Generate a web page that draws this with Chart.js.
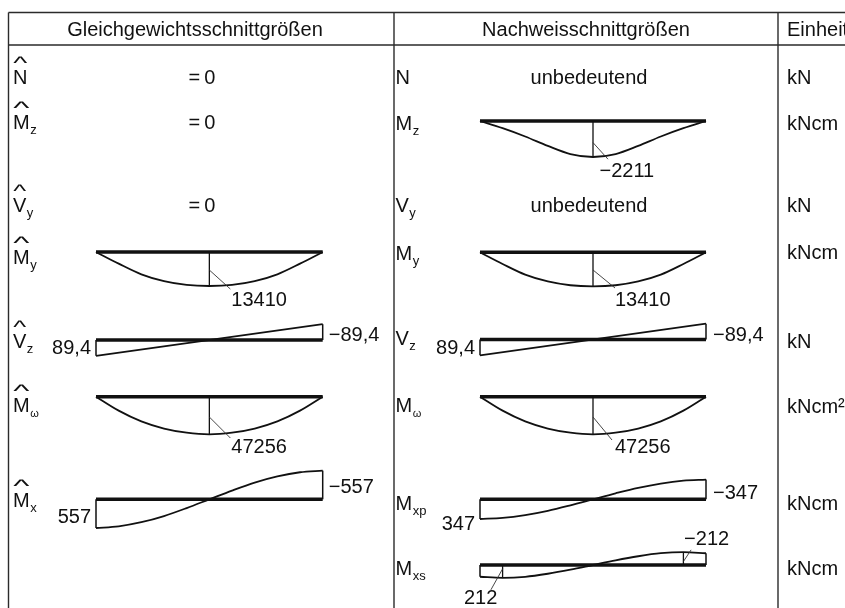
<!DOCTYPE html>
<html><head><meta charset="utf-8">
<script src="https://cdn.jsdelivr.net/npm/chart.js@4.4.1/dist/chart.umd.min.js"></script>
<style>html,body{margin:0;padding:0;background:#fff;overflow:hidden}canvas{display:block}</style>
</head><body>
<canvas id="c" width="845" height="608"></canvas>
<script>
// ---------------- data ----------------
const tPos  = [0, 0.1, 0.2, 0.3, 0.4, 0.5, 0.6, 0.7, 0.8, 0.9, 1];   // position along the beam
const tEnds = [0, 1];
const MyVals  = [0, 4600, 8800, 11500, 13000, 13410, 13000, 11500, 8800, 4600, 0];      // kNcm
const MzVals  = [0, -440, -950, -1530, -2030, -2211, -2030, -1530, -950, -440, 0];      // kNcm
const VzVals  = [89.4, -89.4];                                                         // kN
const MwVals  = [0, 17500, 31000, 40000, 45200, 47256, 45200, 40000, 31000, 17500, 0]; // kNcm2
const MxVals  = [557, 525, 445, 325, 170, 0, -170, -325, -445, -525, -557];            // kNcm
const MxpVals = [347, 328, 278, 203, 106, 0, -106, -203, -278, -328, -347];            // kNcm
const MxsVals = [195, 212, 195, 145, 78, 0, -78, -145, -195, -212, -195];              // kNcm

const headers = ['Gleichgewichtsschnittgrößen', 'Nachweisschnittgrößen', 'Einheit'];
const leftSymbols  = [{s:'N',sub:''},{s:'M',sub:'z'},{s:'V',sub:'y'},{s:'M',sub:'y'},{s:'V',sub:'z'},{s:'M',sub:'ω'},{s:'M',sub:'x'}];
const rightSymbols = [{s:'N',sub:''},{s:'M',sub:'z'},{s:'V',sub:'y'},{s:'M',sub:'y'},{s:'V',sub:'z'},{s:'M',sub:'ω'},{s:'M',sub:'xp'},{s:'M',sub:'xs'}];
const units = ['kN','kNcm','kN','kNcm','kN','kNcm²','kNcm','kNcm'];
const zeroTexts  = ['=\u20090', '=\u20090', '=\u20090'];
const minorTexts = ['unbedeutend', 'unbedeutend'];

// ---------------- layout / style ----------------
const W = 845, H = 608;
const FONT = '"Liberation Sans", Arial, Helvetica, sans-serif';
const INK = '#111';
const TABLE = {left:8.5, top:12.5, headerBottom:45, cols:[394, 778], lw:1.4, color:'#2b2b2b'};
const HEADER = {y:35.5, x:[195, 586, 787], align:['center','center','left']};
const LEFT_ROWS_Y  = [84, 129, 212, 264, 348, 412, 507];
const RIGHT_ROWS_Y = [84, 130, 212, 260, 345, 412, 510, 575];
const UNIT_ROWS_Y  = [84, 130, 212, 259, 348, 413, 510, 575];
const ZERO_X = 202, MINOR_X = 589;
const LEFT_X = 13, RIGHT_X = 395.5, UNIT_X = 787;
const COLS = {L:{x0:96, x1:322.7}, R:{x0:480, x1:706}};

const DIAGRAMS = [
 {key:'MyL', col:'L', t:tPos, v:MyVals, yb:252, k:34/13410, dir:1, smooth:true, markers:[5],
  leaders:[{i:5, f:0.53, dx:21, dy:19, lx:1, ly:17}]},
 {key:'VzL', col:'L', t:tEnds, v:VzVals, yb:340, k:15.8/89.4, dir:1, smooth:false, ends:true,
  endLabels:[{i:0, dx:-5, dy:14, align:'right'}, {i:1, dx:6, dy:1, align:'left'}]},
 {key:'MwL', col:'L', t:tPos, v:MwVals, yb:396.7, k:37.6/47256, dir:1, smooth:true, markers:[5],
  leaders:[{i:5, f:0.54, dx:21, dy:21, lx:1, ly:15}]},
 {key:'MxL', col:'L', t:tPos, v:MxVals, yb:499.3, k:28.7/557, dir:1, smooth:true, ends:true,
  endLabels:[{i:0, dx:-5, dy:23.7, align:'right'}, {i:10, dx:6, dy:-6.3, align:'left'}]},
 {key:'MzR', col:'R', t:tPos, v:MzVals, yb:121, k:36/2211, dir:-1, smooth:true, markers:[5],
  leaders:[{i:5, f:0.6, dx:15, dy:16.6, lx:-8.5, ly:17.4}]},
 {key:'MyR', col:'R', t:tPos, v:MyVals, yb:252.3, k:34/13410, dir:1, smooth:true, markers:[5],
  leaders:[{i:5, f:0.52, dx:22, dy:18, lx:0, ly:18}]},
 {key:'VzR', col:'R', t:tEnds, v:VzVals, yb:339.5, k:15.8/89.4, dir:1, smooth:false, ends:true,
  endLabels:[{i:0, dx:-5, dy:14, align:'right'}, {i:1, dx:7, dy:1.5, align:'left'}]},
 {key:'MwR', col:'R', t:tPos, v:MwVals, yb:396.7, k:37.6/47256, dir:1, smooth:true, markers:[5],
  leaders:[{i:5, f:0.54, dx:19, dy:23, lx:3, ly:13}]},
 {key:'MxpR', col:'R', t:tPos, v:MxpVals, yb:499.3, k:19.7/347, dir:1, smooth:true, ends:true,
  endLabels:[{i:0, dx:-5, dy:30.7, align:'right'}, {i:10, dx:7, dy:0, align:'left'}]},
 {key:'MxsR', col:'R', t:tPos, v:MxsVals, yb:565, k:12.8/212, dir:1, smooth:true, ends:true, markers:[1, 9],
  leaders:[{i:1, f:0.3, dx:-11.7, dy:21, lx:-27, ly:14}, {i:9, f:0.27, dx:7.7, dy:-11.7, lx:-7, ly:-5}]},
];

function fmt(v){ return (v < 0 ? '\u2212' : '') + String(Math.abs(v)).replace('.', ','); }

// ---------------- scales ----------------
const scales = {};
for (const c of Object.keys(COLS)) {
  const L = COLS[c].x1 - COLS[c].x0, mn = -COLS[c].x0 / L;
  scales['x' + c] = {type:'linear', display:false, min:mn, max:mn + W / L};
}
for (const d of DIAGRAMS) {
  let mn;
  if (d.dir > 0) mn = -d.yb / d.k; else mn = (d.yb - H) / d.k;
  scales['y_' + d.key] = {type:'linear', display:false, reverse:d.dir > 0, min:mn, max:mn + H / d.k};
}

// ---------------- datasets ----------------
const datasets = [];
function seg(d, pts, w){
  datasets.push({data:pts, xAxisID:'x' + d.col, yAxisID:'y_' + d.key, showLine:true, pointRadius:0,
    borderColor:INK, borderWidth:w, fill:false, tension:0, borderCapStyle:'butt'});
}
for (const d of DIAGRAMS) {
  const ds = {data:d.t.map((t, i) => ({x:t, y:d.v[i]})), xAxisID:'x' + d.col, yAxisID:'y_' + d.key,
    showLine:true, pointRadius:0, borderColor:INK, borderWidth:1.8, fill:false, borderJoinStyle:'round'};
  if (d.smooth) ds.cubicInterpolationMode = 'monotone'; else ds.tension = 0;
  datasets.push(ds);
  if (d.ends) {
    const last = d.t.length - 1;
    seg(d, [{x:d.t[0], y:0}, {x:d.t[0], y:d.v[0]}], 1.5);
    seg(d, [{x:d.t[last], y:0}, {x:d.t[last], y:d.v[last]}], 1.5);
  }
  for (const i of (d.markers || [])) seg(d, [{x:d.t[i], y:0}, {x:d.t[i], y:d.v[i]}], 1.3);
  seg(d, [{x:d.t[0], y:0}, {x:d.t[d.t.length - 1], y:0}], 3.6);
}

// ---------------- text / table plugin ----------------
function drawSym(ctx, sym, x, y, hat){
  ctx.font = '20px ' + FONT; ctx.textAlign = 'left'; ctx.textBaseline = 'alphabetic';
  ctx.fillText(sym.s, x, y);
  const w = ctx.measureText(sym.s).width;
  if (hat) {
    ctx.save();
    ctx.translate(x + w / 2, y - 21.5);
    ctx.scale(w * 0.78 / 6.8, 1.05);
    ctx.textAlign = 'center';
    ctx.font = '18px ' + FONT;
    ctx.fillText('^', 0, 5.8);
    ctx.restore();
  }
  if (sym.sub) {
    ctx.font = (sym.sub === 'ω' ? 11 : 13) + 'px ' + FONT;
    ctx.textAlign = 'left';
    ctx.fillText(sym.sub, x + w + 0.5, y + 4.5);
  }
}

const tablePlugin = {
  id:'tablePlugin',
  beforeDraw(chart){
    const ctx = chart.ctx; ctx.save(); ctx.fillStyle = '#fff'; ctx.fillRect(0, 0, chart.width, chart.height); ctx.restore();
  },
  afterDraw(chart){
    const ctx = chart.ctx; ctx.save();
    // table grid
    ctx.strokeStyle = TABLE.color; ctx.lineWidth = TABLE.lw;
    ctx.beginPath();
    ctx.moveTo(TABLE.left, TABLE.top); ctx.lineTo(W, TABLE.top);
    ctx.moveTo(TABLE.left, TABLE.headerBottom); ctx.lineTo(W, TABLE.headerBottom);
    ctx.moveTo(TABLE.left, TABLE.top); ctx.lineTo(TABLE.left, H);
    for (const cx of TABLE.cols) { ctx.moveTo(cx, TABLE.top); ctx.lineTo(cx, H); }
    ctx.stroke();
    // headers
    ctx.fillStyle = INK; ctx.font = '20px ' + FONT; ctx.textBaseline = 'alphabetic';
    headers.forEach((h, i) => { ctx.textAlign = HEADER.align[i]; ctx.fillText(h, HEADER.x[i], HEADER.y); });
    // row symbols
    leftSymbols.forEach((s, i) => drawSym(ctx, s, LEFT_X, LEFT_ROWS_Y[i], true));
    rightSymbols.forEach((s, i) => drawSym(ctx, s, RIGHT_X, RIGHT_ROWS_Y[i], false));
    ctx.font = '20px ' + FONT; ctx.textAlign = 'left';
    units.forEach((u, i) => ctx.fillText(u, UNIT_X, UNIT_ROWS_Y[i]));
    ctx.textAlign = 'center';
    zeroTexts.forEach((z, i) => ctx.fillText(z, ZERO_X, LEFT_ROWS_Y[i]));
    ctx.fillText(minorTexts[0], MINOR_X, RIGHT_ROWS_Y[0]);
    ctx.fillText(minorTexts[1], MINOR_X, RIGHT_ROWS_Y[2]);
    // value labels + leaders
    for (const d of DIAGRAMS) {
      const xs = chart.scales['x' + d.col], ys = chart.scales['y_' + d.key];
      for (const e of (d.endLabels || [])) {
        ctx.font = '20px ' + FONT; ctx.textAlign = e.align;
        ctx.fillText(fmt(d.v[e.i]), xs.getPixelForValue(d.t[e.i]) + e.dx, ys.getPixelForValue(0) + e.dy);
      }
      for (const l of (d.leaders || [])) {
        const sx = xs.getPixelForValue(d.t[l.i]), sy = ys.getPixelForValue(d.v[l.i] * l.f);
        const ex = sx + l.dx, ey = sy + l.dy;
        ctx.strokeStyle = '#333'; ctx.lineWidth = 0.9;
        ctx.beginPath(); ctx.moveTo(sx, sy); ctx.lineTo(ex, ey); ctx.stroke();
        ctx.font = '20px ' + FONT; ctx.textAlign = 'left';
        ctx.fillText(fmt(d.v[l.i]), ex + l.lx, ey + l.ly);
      }
    }
    ctx.restore();
  }
};

new Chart(document.getElementById('c'), {
  type:'scatter',
  data:{datasets},
  options:{
    responsive:false, animation:false, events:[],
    layout:{padding:0},
    plugins:{legend:{display:false}, tooltip:{enabled:false}, title:{display:false}},
    scales
  },
  plugins:[tablePlugin]
});
</script>
</body></html>
